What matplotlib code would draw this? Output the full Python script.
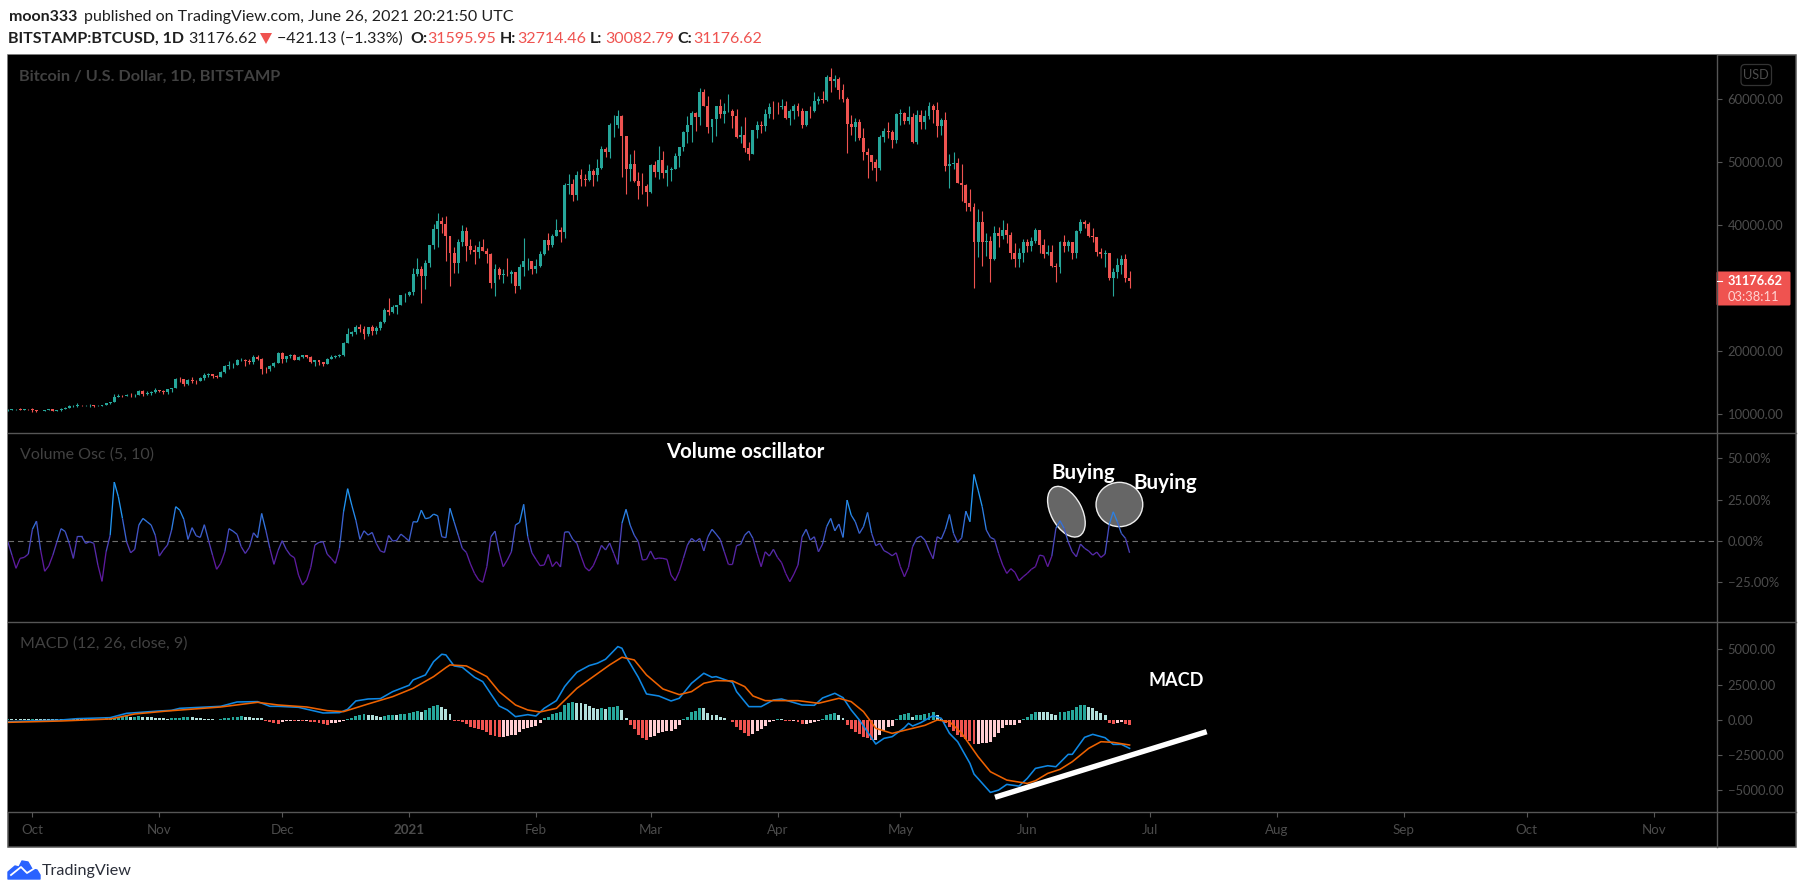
import matplotlib
matplotlib.use("Agg")
import matplotlib.pyplot as plt
import matplotlib.dates as mdates
from matplotlib.collections import LineCollection
from matplotlib.patches import Ellipse, FancyBboxPatch, Polygon, Rectangle
import numpy as np
import pandas as pd

plt.rcParams["font.family"] = ["Lato", "DejaVu Sans"]

# daily candles, 25 Sep 2020 - 26 Jun 2021, one line per month
opens = [
    10690, 10730, 10770, 10780, 10690, 10840,
    10780, 10620, 10570, 10550, 10670, 10790, 10600, 10670, 10920, 11050, 11300, 11370, 11540, 11430, 11430, 11500, 11320, 11360, 11500, 11750, 11920, 12820, 12980, 12930, 13120, 13030, 13070, 13650, 13280, 13460, 13560,
    13800, 13760, 13550, 14030, 14150, 15590, 15580, 14840, 15490, 15330, 15300, 15700, 16290, 16330, 16070, 15960, 16720, 17660, 17800, 17820, 18680, 18690, 18420, 18370, 19160, 18720, 17150, 17130, 17720, 18180,
    19700, 18770, 19220, 19440, 18650, 19150, 19360, 19170, 18320, 18550, 18250, 18030, 18810, 19160, 19270, 19440, 21340, 22800, 23130, 23850, 23480, 22730, 23820, 23240, 23730, 24710, 26490, 26270, 27040, 27360, 28880,
    28990, 29410, 32200, 33000, 31980, 33990, 36810, 39490, 40670, 40240, 38240, 35540, 34010, 37370, 39150, 36760, 36010, 35830, 36630, 35910, 35500, 30820, 33010, 32090, 32290, 32260, 32510, 30400, 33440, 34290, 34300,
    33110, 33530, 35510, 37670, 36950, 38290, 39250, 38870, 46450, 46530, 44840, 47970, 47300, 47170, 48650, 47940, 49150, 52150, 51570, 55900, 55900, 57400, 54100, 48890, 49700, 47040, 46300, 46200,
    45240, 49600, 48400, 50370, 48370, 48750, 48880, 50970, 52380, 54880, 55850, 57790, 57230, 61190, 59000, 55650, 56900, 58920, 57650, 58080, 58100, 57350, 54090, 54350, 52300, 51300, 55050, 55850, 55780, 57620, 58790,
    58770, 58730, 58980, 57060, 58200, 58980, 58080, 56000, 58100, 58080, 59770, 59980, 59840, 63580, 62950, 63200, 61400, 60000, 56150, 55660, 56470, 53800, 51700, 51150, 50100, 49100, 54030, 55040, 54850, 53570,
    57700, 57800, 56600, 57160, 53200, 57500, 56400, 57330, 58860, 58240, 55840, 56700, 49400, 49700, 49900, 46700, 46400, 43550, 42900, 37300, 40600, 37300, 37450, 34700, 38790, 38300, 39240, 38450, 35660, 34600, 35680,
    37290, 36680, 37560, 39190, 36840, 35520, 35800, 33550, 33400, 37380, 36690, 37320, 35550, 39020, 40520, 40140, 38340, 38090, 35820, 35480, 35600, 31650, 32510, 33690, 34660, 31595.95,
]
highs = [
    10770, 10800, 10800, 10950, 10860, 10850,
    10930, 10670, 10600, 10700, 10800, 10800, 10690, 10960, 11100, 11490, 11440, 11730, 11550, 11550, 11630, 11550, 11400, 11500, 11820, 12020, 13200, 13200, 13030, 13170, 13340, 13250, 13790, 13850, 13630, 13680, 14100,
    13900, 13820, 14060, 14250, 15750, 15970, 15650, 15650, 15850, 15450, 15950, 16500, 16500, 16350, 16170, 16870, 17860, 18500, 18150, 18800, 18950, 18750, 18750, 19400, 19480, 18900, 17450, 17900, 18350, 19850,
    19900, 19300, 19570, 19540, 19180, 19420, 19420, 19300, 18630, 18580, 18280, 18950, 19400, 19350, 19550, 21530, 23750, 23280, 24150, 24270, 24050, 23830, 24100, 24000, 24780, 26800, 28400, 27400, 27380, 29000, 29300,
    29650, 33300, 34800, 33600, 34500, 36900, 40200, 41950, 41300, 41400, 38250, 36600, 37800, 40100, 39700, 37900, 36850, 37450, 37850, 36400, 35600, 33800, 33450, 33000, 34880, 32900, 32550, 33780, 38000, 34860, 34300,
    34700, 35980, 37700, 38700, 38600, 40950, 39700, 46750, 48200, 47300, 48650, 48900, 48150, 49700, 49000, 50600, 52600, 52500, 56200, 57500, 58350, 57500, 54200, 51300, 52000, 48400, 48300, 46600,
    49800, 50200, 52650, 51800, 49500, 49200, 51450, 52400, 54900, 57400, 58100, 58000, 61800, 61700, 60600, 56950, 58950, 60000, 59400, 60800, 58500, 58400, 55800, 57200, 53200, 55100, 56600, 56500, 58400, 59400, 59800,
    59500, 60000, 59700, 58500, 59300, 59450, 58600, 58200, 58900, 61200, 60600, 61300, 63800, 64900, 63800, 63600, 62500, 60400, 57500, 57000, 56800, 55500, 52200, 51200, 50600, 54400, 55500, 56400, 55200, 57900,
    58400, 58000, 58900, 57900, 58300, 58300, 58300, 59500, 59250, 59600, 57000, 58000, 51300, 51600, 50650, 49700, 46600, 45800, 43600, 42600, 42300, 38800, 38300, 39900, 39800, 40800, 40400, 38900, 37200, 36400, 37900,
    37900, 38200, 39500, 39200, 37900, 36800, 36800, 34000, 37500, 38400, 37700, 37400, 39300, 41000, 40900, 40500, 39500, 38200, 36400, 36100, 35600, 33300, 34800, 35300, 35500, 32714.46,
]
lows = [
    10530, 10650, 10620, 10640, 10640, 10670,
    10430, 10370, 10500, 10520, 10630, 10530, 10580, 10530, 10830, 11040, 11220, 11180, 11290, 11280, 11230, 11200, 11290, 11340, 11400, 11680, 11900, 12700, 12720, 12900, 12800, 12800, 13050, 12900, 12990, 13130, 13420,
    13600, 13220, 13300, 13530, 14100, 15200, 14450, 14700, 14900, 14850, 15250, 15500, 15970, 15770, 15800, 15870, 16550, 17200, 17350, 17750, 18400, 17600, 18000, 18000, 18550, 16400, 16500, 16900, 17500, 18180,
    18200, 18350, 18900, 18600, 18540, 18900, 18920, 18200, 17650, 17900, 17600, 18000, 18720, 19000, 19050, 19270, 21240, 22350, 22800, 23100, 21900, 22370, 22600, 22700, 23450, 24500, 25800, 26100, 25850, 27330, 27850,
    28700, 29000, 32000, 27700, 29900, 33350, 36300, 36500, 38700, 34400, 30400, 32500, 32400, 36700, 34400, 35400, 33900, 34800, 35900, 34000, 30000, 28800, 31400, 30900, 31900, 30800, 29300, 29900, 31950, 32900, 32200,
    32350, 33430, 35350, 36150, 36600, 38250, 37400, 38000, 45000, 43800, 44000, 46300, 46200, 47000, 46300, 47000, 48900, 50900, 50750, 54000, 55500, 47700, 44900, 47100, 46800, 44200, 45000, 43000,
    45100, 47600, 47300, 47500, 46300, 47000, 48900, 49300, 51800, 53000, 53200, 55000, 55900, 58900, 54600, 53300, 54100, 57000, 56300, 58000, 55500, 53800, 53000, 51700, 50400, 51300, 53900, 54700, 54900, 57000, 56900,
    57700, 58400, 56900, 56000, 56800, 57300, 55400, 55700, 57100, 58000, 59300, 59350, 59800, 61100, 62000, 60000, 59500, 51500, 54300, 53400, 53500, 50400, 47500, 48800, 47000, 48800, 53300, 53900, 52300, 53100,
    56000, 56100, 56100, 53100, 52900, 55300, 55300, 56900, 56200, 54000, 54400, 48600, 46000, 48900, 46700, 43800, 42200, 42200, 30000, 35000, 33500, 35200, 31000, 34500, 36500, 37800, 37200, 34700, 33400, 33400, 34200,
    35700, 36000, 37200, 35600, 34800, 35300, 33350, 31000, 32400, 35800, 35900, 34600, 34800, 38800, 39500, 38100, 37400, 35200, 34800, 33350, 31250, 28800, 31700, 32300, 31000, 30082.79,
]
closes = [
    10730, 10770, 10780, 10690, 10840, 10780,
    10620, 10570, 10550, 10670, 10790, 10600, 10670, 10920, 11050, 11300, 11370, 11540, 11430, 11430, 11500, 11320, 11360, 11500, 11750, 11920, 12820, 12980, 12930, 13120, 13030, 13070, 13650, 13280, 13460, 13560, 13800,
    13760, 13550, 14030, 14150, 15590, 15580, 14840, 15490, 15330, 15300, 15700, 16290, 16330, 16070, 15960, 16720, 17660, 17800, 17820, 18680, 18690, 18420, 18370, 19160, 18720, 17150, 17130, 17720, 18180, 19700,
    18770, 19220, 19440, 18650, 19150, 19360, 19170, 18320, 18550, 18250, 18030, 18810, 19160, 19270, 19440, 21340, 22800, 23130, 23850, 23480, 22730, 23820, 23240, 23730, 24710, 26490, 26270, 27040, 27360, 28880, 28990,
    29410, 32200, 33000, 31980, 33990, 36810, 39490, 40670, 40240, 38240, 35540, 34010, 37370, 39150, 36760, 36010, 35830, 36630, 35910, 35500, 30820, 33010, 32090, 32290, 32260, 32510, 30400, 33440, 34290, 34300, 33110,
    33530, 35510, 37670, 36950, 38290, 39250, 38870, 46450, 46530, 44840, 47970, 47300, 47170, 48650, 47940, 49150, 52150, 51570, 55900, 55900, 57400, 54100, 48890, 49700, 47040, 46300, 46200, 45240,
    49600, 48400, 50370, 48370, 48750, 48880, 50970, 52380, 54880, 55850, 57790, 57230, 61190, 59000, 55650, 56900, 58920, 57650, 58080, 58100, 57350, 54090, 54350, 52300, 51300, 55050, 55850, 55780, 57620, 58790, 58770,
    58730, 58980, 57060, 58200, 58980, 58080, 56000, 58100, 58080, 59770, 59980, 59840, 63580, 62950, 63200, 61400, 60000, 56150, 55660, 56470, 53800, 51700, 51150, 50100, 49100, 54030, 55040, 54850, 53570, 57700,
    57800, 56600, 57160, 53200, 57500, 56400, 57330, 58860, 58240, 55840, 56700, 49400, 49700, 49900, 46700, 46400, 43550, 42900, 37300, 40600, 37300, 37450, 34700, 38790, 38300, 39240, 38450, 35660, 34600, 35680, 37290,
    36680, 37560, 39190, 36840, 35520, 35800, 33550, 33400, 37380, 36690, 37320, 35550, 39020, 40520, 40140, 38340, 38090, 35820, 35480, 35600, 31650, 32510, 33690, 34660, 31595.95, 31176.62,
]

# volume oscillator in percent, one value per candle
vol_osc = [
    -0.4, -8.5, -16.5, -10.5, -9.9, -7.9, 7.1, 12.1, -5.4, -18.3, -15.1, -8.5, -0.4, 7.5, 5.8, -1.4, -10.5, 3.0, 3.0, -1.4, -0.4, -1.4, -14.5, -24.4, -6.5,
    3.6, 35.7, 26.8, 13.7, -0.4, -7.1, -5.0, 9.7, 13.7, 11.7, 9.7, 3.6, -9.1, -5.4, -2.4, 6.7, 20.8, 18.7, 13.1, 1.0, 8.1, 3.2, 2.2, 9.9, 0.6,
    -8.5, -17.1, -13.5, -6.5, 7.5, 6.0, 4.0, -3.4, -7.5, -3.8, 5.0, 2.0, 16.7, 6.7, -4.4, -14.1, -5.8, 0.2, -5.0, -8.5, -10.1, -20.6, -26.6, -23.6, -15.9,
    -2.4, -0.8, -0.4, -7.9, -10.5, -13.5, -4.4, 17.7, 31.7, 21.8, 12.7, 1.0, 6.2, 3.6, 5.2, -1.4, -6.0, -6.9, 3.4, 0.0, 0.4, 4.2, 2.2, 0.0, 11.7,
    11.5, 18.7, 13.5, 14.1, 16.3, 15.3, 2.6, 2.0, 19.8, 11.7, 3.6, -4.4, -6.9, -13.9, -19.6, -23.6, -25.0, -15.5, 2.6, 6.0, -6.5, -15.5, -11.5, -6.5, 9.7,
    11.3, 22.2, 2.6, -7.1, -11.1, -14.9, -14.5, -8.1, -15.5, -12.5, -15.7, 5.4, 5.6, 1.0, -1.4, -9.1, -15.9, -18.1, -14.9, -9.1, -2.6, -5.4, -1.2, -7.5, -14.1,
    10.7, 19.2, 9.7, 3.6, -0.4, -11.5, -11.1, -6.0, -10.9, -10.3, -10.5, -11.1, -20.6, -24.0, -18.5, -10.5, -2.4, 1.6, -0.4, 1.6, -6.0, 2.6, 7.1, 4.2, 1.0,
    -6.5, -14.1, -14.1, -2.8, -2.0, 3.6, 6.0, 1.6, -7.5, -15.5, -6.5, -9.1, -5.0, -9.9, -13.1, -19.6, -24.6, -20.0, -14.5, 2.6, 7.1, 0.6, 2.6, -6.5, -1.8,
    8.7, 13.7, 6.2, 10.3, 2.2, 24.8, 15.7, 11.7, 4.6, 8.7, 17.3, 4.6, -2.8, -1.4, -5.8, -7.1, -8.9, -7.1, -15.5, -21.6, -15.9, -3.4, 1.6, 3.0, 0.6,
    -5.4, -10.7, 2.6, 1.2, 7.1, 16.1, 4.6, -0.8, 2.0, 18.1, 11.7, 40.3, 30.8, 20.8, 6.7, 2.2, 1.0, -7.5, -14.5, -19.6, -16.7, -19.0, -24.0, -21.6, -19.6,
    -17.1, -15.5, -8.5, -9.1, -15.5, -9.1, 7.7, 12.3, 7.7, -0.4, -6.5, -9.5, -1.8, -4.4, -6.0, -8.5, -6.7, -9.9, -7.9, 9.7, 17.7, 11.7, 4.6, 1.6, -7.1,
]

# MACD histogram, one value per candle
macd_hist = [
    71, 71, 71, 71, 71, 47, 71, 71, 47, 47, 47, 47, 47, 47, 71, 71, 71, 71, 71, 71, 71, 71, 71, 95, 118,
    142, 166, 213, 237, 260, 213, 237, 260, 237, 237, 189, 142, 118, 118, 95, 118, 142, 166, 189, 213, 189, 142, 118, 95, 95,
    71, 24, 71, 118, 166, 189, 237, 260, 213, 189, 166, 166, 118, -71, -118, -213, -260, -118, -95, -71, -95, -71, -95, -95, -118,
    -142, -213, -284, -331, -237, -189, -142, -71, 71, 166, 284, 355, 402, 379, 331, 284, 237, 284, 355, 379, 379, 402, 426, 473, 568,
    639, 592, 710, 876, 994, 1089, 947, 805, 402, -47, -71, -118, -284, -473, -568, -663, -710, -828, -1089, -1160, -1207, -1184, -1136, -1065, -1041,
    -828, -663, -592, -473, -402, -189, 118, 237, 426, 521, 592, 1065, 1184, 1255, 1231, 1184, 1112, 994, 852, 805, 829, 781, 899, 947, 970,
    710, 142, -355, -663, -1065, -1302, -1420, -1231, -1112, -947, -828, -781, -757, -663, -355, 47, 237, 568, 663, 852, 852, 473, 355, 331, 213,
    118, 24, -118, -473, -710, -899, -1112, -994, -781, -639, -426, -166, -47, 95, 95, -47, -71, -71, -142, -284, -284, -189, -118, -47, 71,
    355, 426, 497, 355, 118, -355, -663, -828, -1018, -1231, -1302, -1420, -1420, -1065, -781, -521, -426, 71, 331, 402, 473, 237, 331, 379, 426,
    497, 544, 355, 71, -237, -473, -757, -1065, -1184, -1373, -1468, -1728, -1728, -1657, -1610, -1539, -1184, -947, -592, -355, -355, -331, -189, 71, 189,
    402, 592, 592, 544, 544, 426, 331, 544, 592, 663, 710, 947, 1041, 1089, 947, 876, 663, 521, 379, -189, -284, -189, -142, -284, -355,
]

# MACD and signal are smooth, so they are read at the candles where they bend
macd_days = [0, 13, 17, 25, 29, 37, 40, 42, 52, 56, 61, 64, 66, 71, 77, 81, 83, 85, 88, 91, 94, 98, 99, 102, 104, 106, 107, 109, 111, 114, 116, 118, 120, 122, 124, 127, 129, 131, 134, 136, 137, 139, 142, 144, 146, 149, 150, 151, 154, 156, 159, 162, 164, 167, 170, 172, 173, 177, 178, 181, 184, 187, 189, 194, 197, 199, 202, 204, 206, 208, 212, 214, 216, 219, 220, 221, 223, 226, 228, 230, 232, 235, 236, 240, 242, 244, 247, 249, 251, 254, 256, 259, 260, 263, 265, 268, 270, 272, 274]
macd_vals = [-118, 0, 95, 166, 473, 639, 686, 828, 970, 1278, 1302, 970, 970, 899, 497, 521, 757, 1349, 1491, 1515, 2012, 2462, 2840, 3195, 4142, 4663, 4616, 3835, 3740, 3030, 2722, 1846, 994, 710, 237, 379, 284, 828, 1373, 2367, 2722, 3385, 3858, 4024, 4308, 5207, 5089, 4497, 3030, 1846, 1704, 1349, 1539, 2604, 3314, 3030, 3077, 2675, 2012, 947, 947, 1420, 1491, 1065, 1041, 1562, 1894, 1586, 710, 0, -1704, -1302, -1184, -544, -237, -426, -189, 308, 118, -947, -1539, -3077, -3835, -5136, -4971, -4568, -4687, -4142, -3432, -3243, -3314, -2438, -2438, -1231, -1018, -1255, -1728, -1728, -2012]
signal_days = [0, 13, 25, 31, 39, 52, 61, 66, 73, 78, 82, 88, 94, 99, 104, 107, 108, 112, 117, 120, 124, 127, 130, 134, 139, 143, 147, 150, 153, 156, 160, 164, 167, 170, 173, 177, 180, 182, 185, 193, 198, 203, 206, 209, 212, 216, 220, 224, 227, 230, 233, 237, 240, 244, 249, 251, 254, 257, 260, 264, 267, 270, 274]
signal_vals = [-166, -71, 71, 426, 639, 923, 1255, 1065, 923, 663, 592, 1136, 1657, 2249, 3077, 3716, 3906, 3835, 3077, 2012, 1065, 710, 568, 828, 2249, 3077, 3906, 4450, 4261, 3195, 2201, 1799, 2012, 2604, 2793, 2769, 2367, 1704, 1373, 1373, 1184, 1539, 1302, 592, -592, -947, -663, -379, 0, -118, -947, -2604, -3669, -4261, -4497, -4308, -3787, -3503, -2959, -2012, -1539, -1586, -1775]

# 30000.00 sits behind the last price flag in the reference
price_ticks = [10000, 20000, 40000, 50000, 60000]
osc_ticks = [-25, 0, 25, 50]
macd_ticks = [-5000, -2500, 0, 2500, 5000]
month_ticks = ["2020-10-01", "2020-11-01", "2020-12-01", "2021-01-01", "2021-02-01", "2021-03-01", "2021-04-01",
               "2021-05-01", "2021-06-01", "2021-07-01", "2021-08-01", "2021-09-01", "2021-10-01", "2021-11-01"]
month_labels = ["Oct", "Nov", "Dec", "2021", "Feb", "Mar", "Apr", "May", "Jun", "Jul", "Aug", "Sep", "Oct", "Nov"]

UP = "#26a69a"
DOWN = "#ef5350"
FRAME = "#565656"
AXIS_TEXT = "#4c4c4c"
LEGEND_TEXT = "#414141"

W, H = 1805, 894
fig = plt.figure(figsize=(W / 100, H / 100), dpi=100, facecolor="white")


def pane(top, bottom):
    """axes between two pixel rows, same left and right edge for all panes"""
    left, right = 7.5, 1716.7
    ax = fig.add_axes([left / W, 1 - bottom / H, (right - left) / W, (bottom - top) / H], facecolor="black")
    for s in ax.spines.values():
        s.set_visible(False)
    ax.yaxis.tick_right()
    ax.tick_params(axis="y", direction="out", length=3.6, width=0.8, color=FRAME, labelcolor=AXIS_TEXT, labelsize=9.4, pad=4.2)
    ax.set_xlim(x_left, x_right)
    ax.set_xticks([])
    return ax


dates = mdates.date2num(pd.date_range("2020-09-25", periods=len(closes), freq="D"))
# 4.094 pixels per day, 1 Oct 2020 at pixel 32.4
oct1 = mdates.date2num(pd.Timestamp("2020-10-01"))
x_left = oct1 + (7.5 - 32.4) / 4.094
x_right = oct1 + (1716.7 - 32.4) / 4.094

# black background and outer frame, right scale and time scale live on it
fig.add_artist(Rectangle((7.5 / W, 1 - 847 / H), 1788.5 / W, 792 / H, facecolor="black", edgecolor=FRAME, linewidth=1.1, transform=fig.transFigure, zorder=-5))

# price pane
ax1 = pane(55, 433)
ax1.set_ylim(7032, 67032)
o, h, l, c = map(np.array, (opens, highs, lows, closes))
colors = [UP if b >= a else DOWN for a, b in zip(o, c)]
ax1.vlines(dates, l, h, colors=colors, linewidth=0.8)
ax1.bar(dates, np.abs(c - o), bottom=np.minimum(o, c), width=0.72, color=colors, linewidth=0)
ax1.set_yticks(price_ticks, [f"{v:.2f}" for v in price_ticks])

# volume oscillator pane, line colour goes from purple to blue with the value
ax2 = pane(433, 622)
ax2.set_ylim(-49, 65.4)
ax2.axhline(0, color="#6e6e6e", linewidth=0.8, dashes=(5, 3.5))
pts = np.column_stack([dates, vol_osc])
segs = np.stack([pts[:-1], pts[1:]], axis=1)
mid = (np.array(vol_osc[:-1]) + np.array(vol_osc[1:])) / 2
low_col = np.array(matplotlib.colors.to_rgb("#5e1a9e"))
high_col = np.array(matplotlib.colors.to_rgb("#2196f3"))
frac = np.clip((mid + 12) / 32, 0, 1)[:, None]
ax2.add_collection(LineCollection(segs, colors=low_col + (high_col - low_col) * frac, linewidth=0.95, zorder=4))
ax2.set_yticks(osc_ticks, [f"{v:.2f}%".replace("-", "\u2212") for v in osc_ticks])

# MACD pane, histogram shade depends on sign and direction
ax3 = pane(622, 812)
ax3.set_ylim(-6525, 6950)
bar_cols = []
for i, v in enumerate(macd_hist):
    prev = macd_hist[i - 1] if i else 0
    if v >= 0:
        bar_cols.append(UP if v > prev else "#b2dfdb")
    else:
        bar_cols.append(DOWN if v < prev else "#ffcdd2")
ax3.bar(dates, macd_hist, width=0.72, color=bar_cols, linewidth=0)
ax3.plot(dates[macd_days], macd_vals, color="#0f88e4", linewidth=1.15)
ax3.plot(dates[signal_days], signal_vals, color="#ee6200", linewidth=1.15)
ax3.set_yticks(macd_ticks, [f"{v:.2f}".replace("-", "\u2212") for v in macd_ticks])
ax3.set_xticks(mdates.date2num(pd.to_datetime(month_ticks)), month_labels)
ax3.tick_params(axis="x", direction="out", length=3.6, width=0.8, color=FRAME, labelcolor=AXIS_TEXT, labelsize=9.6, pad=5)
ax3.get_xticklabels()[3].set_fontweight("bold")

# pixel overlay for everything that is not tied to a scale
pix = fig.add_axes([0, 0, 1, 1], facecolor="none", zorder=10)
pix.set_xlim(0, W)
pix.set_ylim(H, 0)
pix.axis("off")

for y in (433, 622, 812):
    pix.plot([7.5, 1796], [y, y], color=FRAME, linewidth=1.0)
pix.plot([1716.7, 1716.7], [55, 847], color=FRAME, linewidth=1.0)


def txt(x, y, s, size=11.55, color="#1f1f1f", weight="normal", ha="left", **kw):
    return pix.text(x, y, s, fontsize=size, color=color, fontweight=weight, ha=ha, va="center", **kw)


# header
txt(8.5, 17, "moon333", weight="bold")
txt(84, 17, "published on TradingView.com, June 26, 2021 20:21:50 UTC")
txt(8.5, 38.7, "BITSTAMP:BTCUSD, 1D", weight="bold")
txt(188, 38.7, "31176.62")
pix.add_patch(Polygon([(260, 33), (272, 33), (266, 44)], closed=True, facecolor=DOWN, edgecolor="none"))
txt(277, 38.7, "\u2212421.13 (\u22121.33%)")
for lx, vx, lab, val in [(410, 427.5, "O:", "31595.95"), (500, 517, "H:", "32714.46"),
                         (590, 605, "L:", "30082.79"), (677, 693, "C:", "31176.62")]:
    txt(lx, 38.7, lab, weight="bold")
    txt(vx, 38.7, val, color=DOWN)

# pane legends
txt(19, 76.7, "Bitcoin / U.S. Dollar, 1D, BITSTAMP", size=11.7, color=LEGEND_TEXT, weight="bold")
txt(19.5, 455, "Volume Osc (5, 10)", size=11.5, color=LEGEND_TEXT)
txt(19.5, 644, "MACD (12, 26, close, 9)", size=11.5, color=LEGEND_TEXT)

# USD button and last price flag
pix.add_patch(FancyBboxPatch((1743, 66.5), 26.5, 17, boxstyle="round,pad=2,rounding_size=4", facecolor="black", edgecolor="#333333", linewidth=0.9))
txt(1756.2, 75, "USD", size=9.2, color=AXIS_TEXT, ha="center")
pix.add_patch(FancyBboxPatch((1717, 272), 73, 33, boxstyle="round,pad=0.5,rounding_size=1.5", facecolor=DOWN, edgecolor="none"))
pix.plot([1717, 1722], [280.7, 280.7], color="white", linewidth=0.8)
txt(1728, 281, "31176.62", size=9.3, color="white", weight="bold")
txt(1728, 297, "03:38:11", size=9.3, color="#ffd5d3")

# drawings put on the chart by the author
ax2.add_patch(Ellipse((1066.4, 511.7), 55, 31, angle=62, facecolor="#666666", edgecolor="#eeeeee", linewidth=1.0, transform=pix.transData, zorder=2))
ax2.add_patch(Ellipse((1119.4, 504.5), 46.7, 44.3, facecolor="#666666", edgecolor="#eeeeee", linewidth=1.0, transform=pix.transData, zorder=2))
for x, y, s, size in [(666, 451.7, "Volume oscillator", 14.7), (1051, 472.7, "Buying", 14.8), (1133.6, 483, "Buying", 14.8), (1148.6, 680.7, "MACD", 13)]:
    txt(x, y, s, size=size, color="white", weight="bold")
pix.plot([995, 1206.7], [797.3, 731.7], color="white", linewidth=3.9, solid_capstyle="butt")

# TradingView logo
pix.add_patch(Polygon([(8, 879), (8, 872), (15, 866), (19, 867), (22, 861), (28, 862), (32, 869), (37, 870), (40, 875), (40, 879)],
                      closed=True, facecolor="#2962ff", edgecolor="#2962ff", linewidth=1, joinstyle="round"))
pix.plot([11, 21, 27, 35], [875, 867, 873, 868], color="white", linewidth=1.3)
txt(42, 870.7, "TradingView", size=11.6, color="#2a2e39")

fig.savefig("out.png", dpi=100, facecolor="white")
